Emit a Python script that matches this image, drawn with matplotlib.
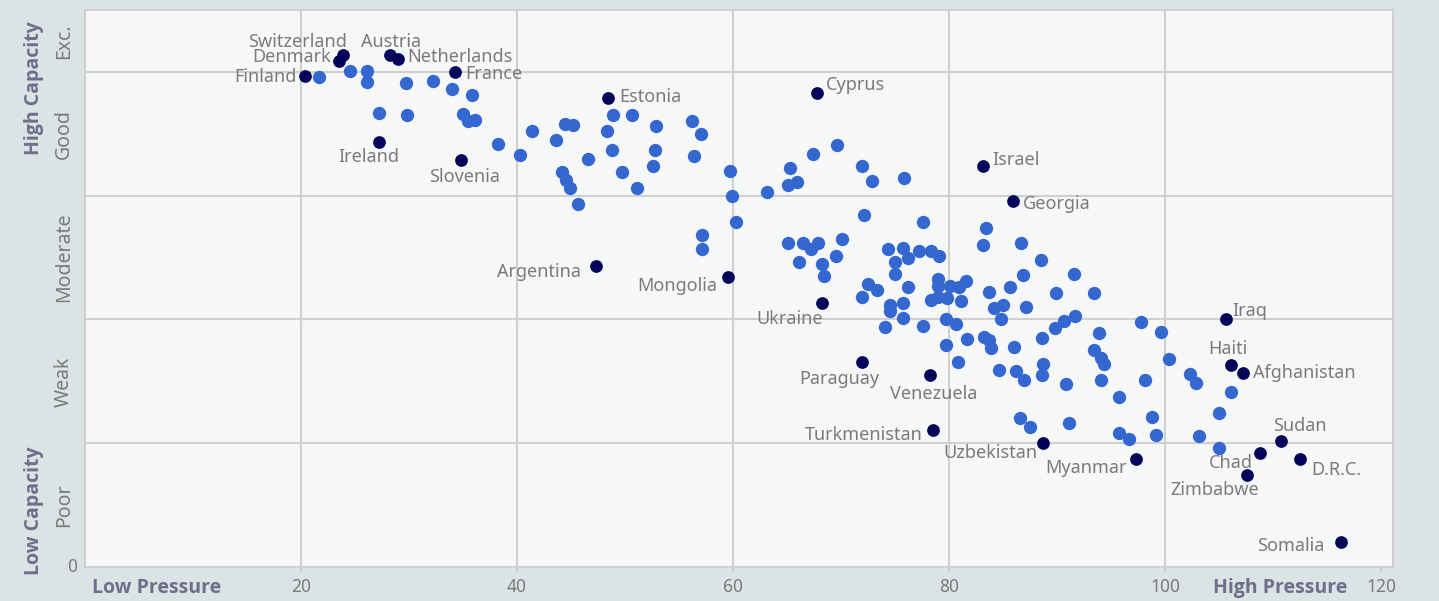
import matplotlib
matplotlib.use("Agg")
import matplotlib.pyplot as plt

plt.rcParams['font.family'] = ['Noto Sans', 'DejaVu Sans']

# pressure (x) and capacity (y) for the unlabelled countries
other_pressure = [
    21.7, 24.5, 26.1, 26.1, 29.7, 32.2, 34.0, 35.8, 27.2, 29.8,
    35.0, 35.5, 36.1, 38.2, 40.3, 41.4, 43.6, 44.4, 45.2, 46.6,
    48.3, 48.9, 50.6, 48.8, 49.7, 51.1, 52.9, 52.8, 52.6, 56.2,
    57.0, 56.4, 44.2, 44.5, 44.9, 45.6, 59.7, 59.9, 60.3, 57.1,
    57.1, 63.1, 65.3, 65.1, 65.9, 67.4, 69.6, 71.9, 72.9, 75.8,
    72.1, 77.6, 83.4, 83.1, 86.7, 88.5, 65.1, 66.5, 67.2, 67.9,
    70.1, 66.1, 68.2, 69.5, 68.4, 74.3, 75.7, 76.2, 77.2, 78.3,
    79.1, 75.0, 75.0, 72.5, 73.3, 76.2, 71.9, 74.5, 74.5, 75.7,
    75.7, 74.1, 77.6, 79.0, 79.0, 80.1, 80.9, 81.6, 78.3, 79.0,
    79.8, 81.1, 79.7, 80.6, 79.7, 81.7, 83.2, 83.7, 83.9, 80.8,
    84.6, 83.7, 85.6, 84.2, 85.0, 84.8, 86.0, 86.2, 86.6, 86.8,
    91.6, 87.1, 89.9, 93.4, 91.7, 90.6, 89.8, 97.8, 99.6, 88.6,
    93.9, 86.9, 88.7, 88.6, 90.8, 93.4, 94.1, 94.3, 94.1, 98.1,
    100.4, 102.3, 102.9, 95.7, 106.1, 105.0, 98.8, 99.2, 95.7, 96.7,
    103.1, 105.0, 87.5, 91.1,
]
other_capacity = [
    3.96, 4.01, 4.01, 3.92, 3.91, 3.93, 3.86, 3.81, 3.67, 3.65,
    3.66, 3.60, 3.61, 3.42, 3.33, 3.52, 3.45, 3.58, 3.57, 3.30,
    3.52, 3.65, 3.65, 3.37, 3.19, 3.06, 3.56, 3.37, 3.24, 3.60,
    3.50, 3.32, 3.19, 3.13, 3.06, 2.93, 3.20, 3.00, 2.79, 2.68,
    2.57, 3.03, 3.22, 3.09, 3.11, 3.34, 3.41, 3.24, 3.12, 3.14,
    2.84, 2.79, 2.74, 2.60, 2.62, 2.48, 2.62, 2.62, 2.57, 2.62,
    2.65, 2.46, 2.45, 2.51, 2.35, 2.57, 2.58, 2.50, 2.55, 2.55,
    2.51, 2.46, 2.37, 2.29, 2.24, 2.26, 2.18, 2.12, 2.07, 2.13,
    2.01, 1.94, 1.95, 2.33, 2.27, 2.27, 2.26, 2.31, 2.16, 2.18,
    2.17, 2.15, 2.00, 1.96, 1.79, 1.84, 1.86, 1.83, 1.77, 1.66,
    1.59, 2.22, 2.26, 2.09, 2.12, 2.00, 1.78, 1.58, 1.20, 2.36,
    2.37, 2.10, 2.21, 2.21, 2.03, 1.99, 1.93, 1.98, 1.90, 1.85,
    1.89, 1.51, 1.64, 1.55, 1.48, 1.75, 1.69, 1.64, 1.51, 1.51,
    1.68, 1.56, 1.49, 1.37, 1.41, 1.24, 1.21, 1.07, 1.08, 1.03,
    1.06, 0.96, 1.13, 1.16,
]

# named countries
countries = [
    'Finland', 'Denmark', 'Switzerland', 'Austria', 'Netherlands', 'France',
    'Ireland', 'Slovenia', 'Estonia', 'Cyprus', 'Israel', 'Georgia',
    'Argentina', 'Mongolia', 'Ukraine', 'Paraguay', 'Venezuela',
    'Turkmenistan', 'Uzbekistan', 'Myanmar', 'Iraq', 'Haiti', 'Afghanistan',
    'Sudan', 'Chad', 'D.R.C.', 'Zimbabwe', 'Somalia',
]
country_pressure = [
    20.4, 23.5, 23.9, 28.2, 29.0, 34.3,
    27.2, 34.8, 48.4, 67.8, 83.1, 85.9,
    47.3, 59.5, 68.2, 71.9, 78.2,
    78.5, 88.7, 97.3, 105.6, 106.1, 107.2,
    110.7, 108.8, 112.5, 107.6, 116.3,
]
country_capacity = [
    3.97, 4.09, 4.14, 4.14, 4.10, 4.00,
    3.43, 3.29, 3.79, 3.83, 3.24, 2.96,
    2.43, 2.34, 2.13, 1.66, 1.55,
    1.11, 1.00, 0.87, 2.00, 1.63, 1.57,
    1.02, 0.92, 0.87, 0.74, 0.20,
]

band_centers = [0.5, 1.5, 2.5, 3.5, 4.25]
band_names = ['Poor', 'Weak', 'Moderate', 'Good', 'Exc.']
x_ticks = [20, 40, 60, 80, 100, 120]

# label offsets in pixels from the dot (dx, dy, alignment)
label_pos = {
    'Finland': (-9, -1, 'right'), 'Denmark': (-8, 4, 'right'),
    'Switzerland': (4, 13, 'right'), 'Austria': (1, 13, 'center'),
    'Netherlands': (9, 2, 'left'), 'France': (10, -2, 'left'),
    'Ireland': (-10, -15, 'center'), 'Slovenia': (4, -17, 'center'),
    'Estonia': (11, 1, 'left'), 'Cyprus': (9, 8, 'left'),
    'Israel': (10, 6, 'left'), 'Georgia': (10, -3, 'left'),
    'Argentina': (-15, -6, 'right'), 'Mongolia': (-10, -9, 'right'),
    'Ukraine': (1, -16, 'right'), 'Paraguay': (-22, -17, 'center'),
    'Venezuela': (4, -19, 'center'), 'Turkmenistan': (-10, -5, 'right'),
    'Uzbekistan': (-6, -10, 'right'), 'Myanmar': (-9, -9, 'right'),
    'Iraq': (7, 8, 'left'), 'Haiti': (-3, 16, 'center'),
    'Afghanistan': (10, 0, 'left'), 'Sudan': (19, 15, 'center'),
    'Chad': (-7, -10, 'right'), 'D.R.C.': (11, -11, 'left'),
    'Zimbabwe': (12, -15, 'right'), 'Somalia': (-17, -4, 'right'),
}

light = '#3467d0'
dark = '#03035a'
label_gray = '#7a7a7a'
axis_title = '#6f6f8c'
grid_c = '#cfcfcf'

fig = plt.figure(figsize=(14.39, 6.01), dpi=100, facecolor='#dbe3e4')
ax = fig.add_axes([0.0591, 0.0566, 0.9089, 0.9268])
ax.set_facecolor('#f6f8f8')

ax.set_xlim(0, 121.1)
ax.set_ylim(0, 4.5)

# grid
for gx in [20, 40, 60, 80, 100]:
    ax.axvline(gx, color=grid_c, lw=1.5, zorder=0)
for gy in [1, 2, 3, 4]:
    ax.axhline(gy, color=grid_c, lw=1.5, zorder=0)
for s in ax.spines.values():
    s.set_color(grid_c)
    s.set_linewidth(1.5)

ax.scatter(other_pressure, other_capacity, s=92, color=light, lw=0, zorder=2)
ax.scatter(country_pressure, country_capacity, s=84, color=dark, lw=0, zorder=3)

for name, px, py in zip(countries, country_pressure, country_capacity):
    dx, dy, ha = label_pos[name]
    ax.annotate(name, (px, py), xytext=(dx, dy), textcoords='offset pixels',
                ha=ha, va='center', fontsize=13, color=label_gray, zorder=4)

# x axis
ax.set_xticks(x_ticks)
ax.set_xticklabels([str(t) for t in x_ticks])
ax.tick_params(axis='x', length=4, width=1.5, color=grid_c, pad=4,
               labelsize=12.5, labelcolor=label_gray)

# y axis: capacity bands
ax.set_yticks(band_centers)
ax.set_yticklabels(band_names, rotation=90, va='center')
ax.tick_params(axis='y', length=0, pad=8, labelsize=14, labelcolor=label_gray)
ax.text(-0.006, 0, '0', transform=ax.get_yaxis_transform(), ha='right',
        va='center', fontsize=12.5, color=label_gray)

bold = dict(fontsize=14, fontweight='bold', color=axis_title,
            family=['Open Sans', 'DejaVu Sans'])
fig.text(0.109, 0.0216, 'Low Pressure', ha='center', va='center', **bold)
fig.text(0.8898, 0.0216, 'High Pressure', ha='center', va='center', **bold)
fig.text(0.0236, 0.8536, 'High Capacity', rotation=90, ha='center', va='center', **bold)
fig.text(0.0236, 0.1498, 'Low Capacity', rotation=90, ha='center', va='center', **bold)

fig.savefig('out.png', dpi=100, facecolor=fig.get_facecolor())
